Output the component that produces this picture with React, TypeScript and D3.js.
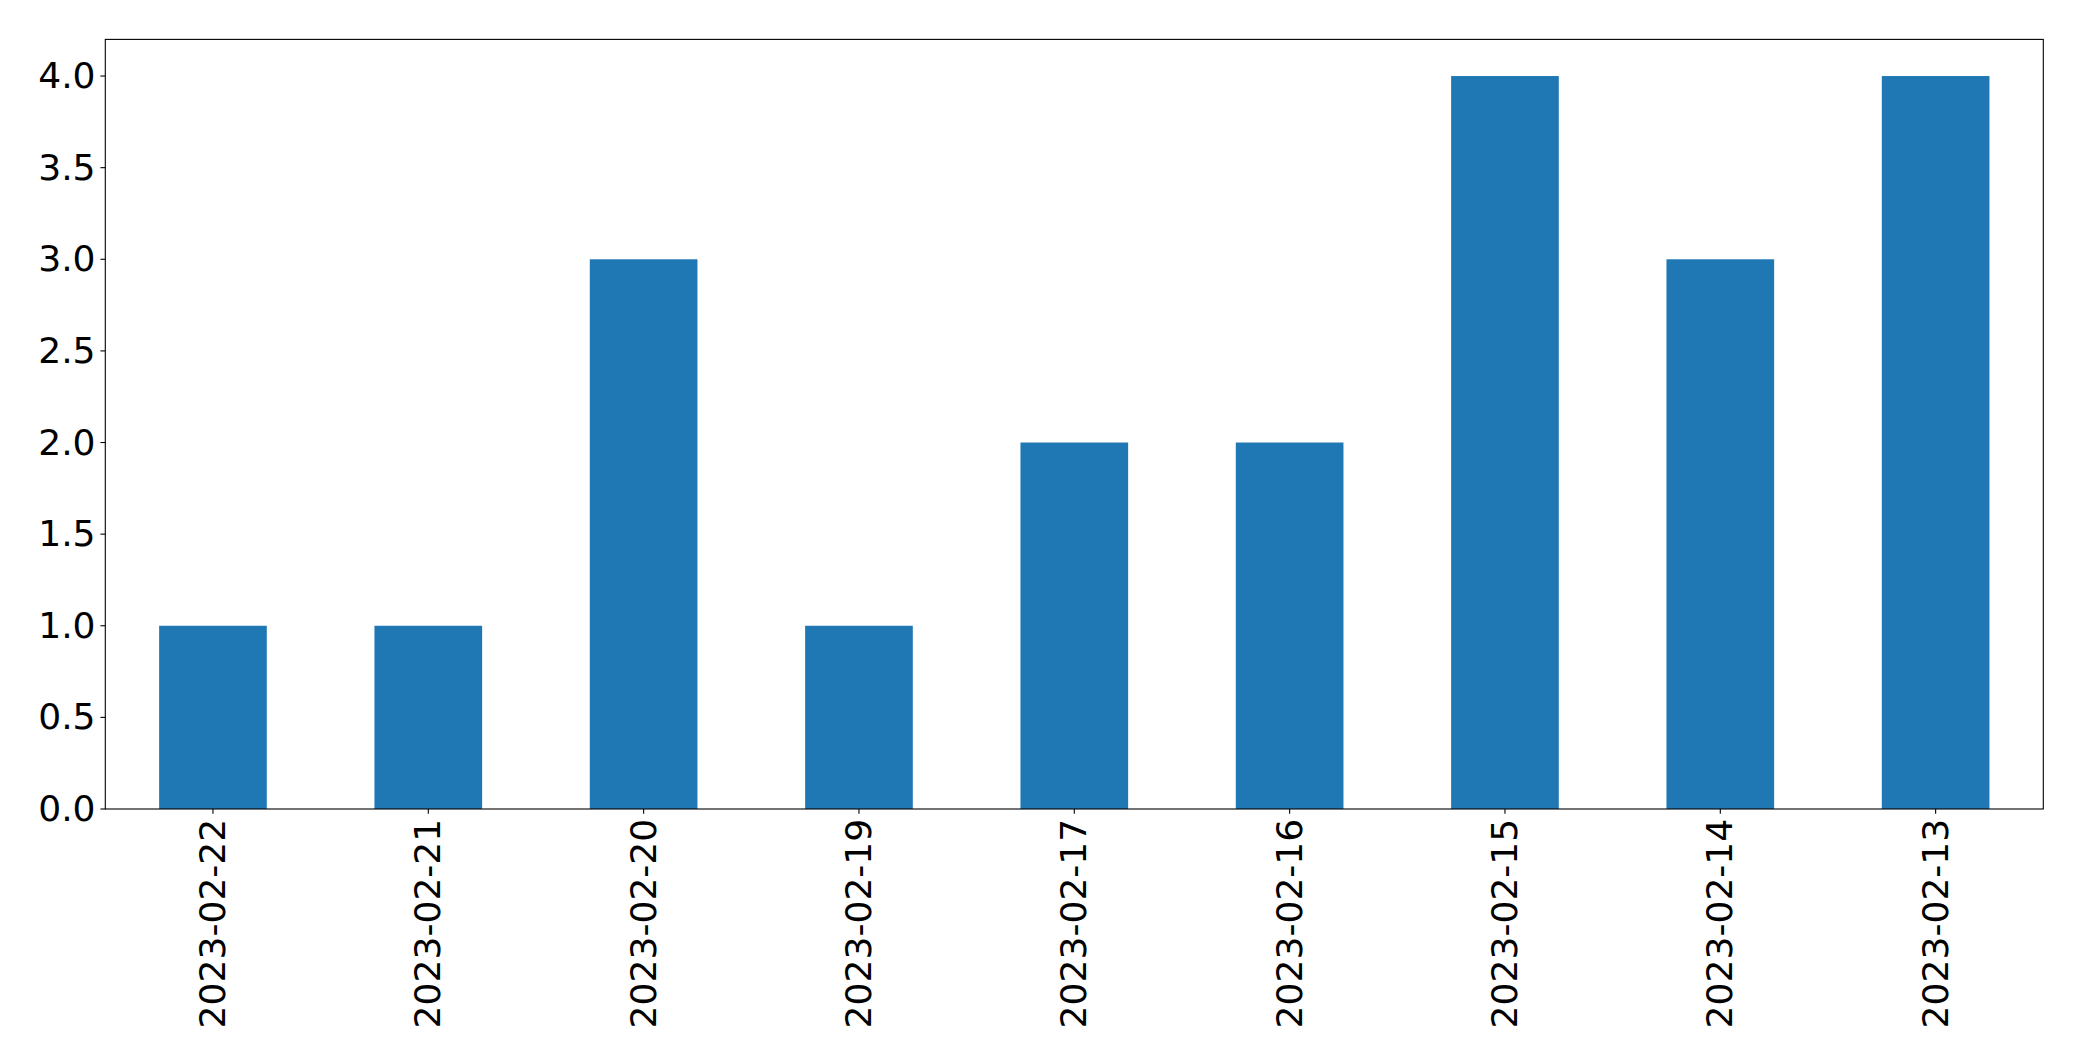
import React from "react";
import * as d3 from "d3";

const categories: string[] = [
  "2023-02-22",
  "2023-02-21",
  "2023-02-20",
  "2023-02-19",
  "2023-02-17",
  "2023-02-16",
  "2023-02-15",
  "2023-02-14",
  "2023-02-13",
];
const values: number[] = [1, 1, 3, 1, 2, 2, 4, 3, 4];
const yTicks: number[] = [0, 0.5, 1, 1.5, 2, 2.5, 3, 3.5, 4];

const W = 2082;
const H = 1061;
const left = 105.3;
const right = 2043.3;
const top = 39.4;
const bottom = 809;
const fontSize = 36.1;
const tickLen = 4.86;
const pad = 4.86;
const font = "'DejaVu Sans', sans-serif";

export default function App() {
  const x = d3.scaleLinear().domain([-0.5, categories.length - 0.5]).range([left, right]);
  const y = d3.scaleLinear().domain([0, 4.2]).range([bottom, top]);
  const barW = x(0.25) - x(-0.25);
  return (
    <svg
      width={W}
      height={H}
      style={{ position: "absolute", left: 0, top: 0, background: "#fff" }}
    >
      <rect x={0} y={0} width={W} height={H} fill="#fff" />
      {values.map((v, i) => (
        <rect
          key={i}
          x={x(i) - barW / 2}
          y={y(v)}
          width={barW}
          height={y(0) - y(v)}
          fill="#1f77b4"
        />
      ))}
      <rect
        x={left}
        y={top}
        width={right - left}
        height={bottom - top}
        fill="none"
        stroke="#000"
        strokeWidth={1.1}
      />
      {yTicks.map((t) => (
        <g key={t}>
          <line x1={left - tickLen} x2={left} y1={y(t)} y2={y(t)} stroke="#000" strokeWidth={1.1} />
          <text
            x={left - tickLen - pad}
            y={y(t)}
            textAnchor="end"
            dominantBaseline="central"
            fontFamily={font}
            fontSize={fontSize}
            fill="#000"
          >
            {t.toFixed(1)}
          </text>
        </g>
      ))}
      {categories.map((c, i) => (
        <g key={c}>
          <line x1={x(i)} x2={x(i)} y1={bottom} y2={bottom + tickLen} stroke="#000" strokeWidth={1.1} />
          <text
            transform={`translate(${x(i)},${bottom + tickLen + pad}) rotate(-90)`}
            textAnchor="end"
            dominantBaseline="central"
            fontFamily={font}
            fontSize={fontSize}
            fill="#000"
          >
            {c}
          </text>
        </g>
      ))}
    </svg>
  );
}
